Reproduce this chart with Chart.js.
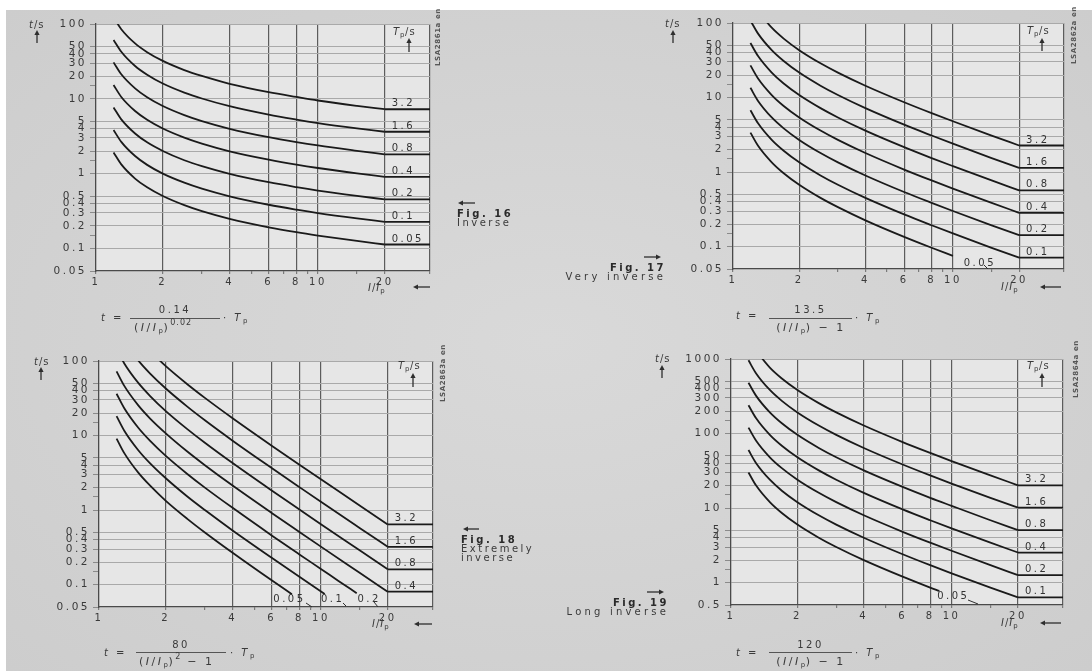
<!DOCTYPE html>
<html><head><meta charset="utf-8">
<script src="https://cdn.jsdelivr.net/npm/chart.js@4.4.1/dist/chart.umd.min.js"></script>
<style>
html,body{margin:0;padding:0;background:#fff;}
#page{position:relative;width:1092px;height:671px;overflow:hidden;background:#fff;font-family:"DejaVu Sans",sans-serif;color:#3a3a3a;}
#paper{position:absolute;left:6px;top:10px;right:0;bottom:0;background:radial-gradient(ellipse at 50% 50%, #d9d9d9 0%, #d2d2d2 60%, #cdcdcd 100%);}
canvas{position:absolute;}
.t{position:absolute;white-space:nowrap;font-size:10px;line-height:12px;letter-spacing:2.5px;z-index:3;}
.u{letter-spacing:1px;}
.b{font-weight:bold;color:#2a2a2a;}
.s{font-size:7px;letter-spacing:0.5px;position:relative;top:2px;}
.id{position:absolute;white-space:nowrap;font-size:7px;line-height:9px;letter-spacing:0.6px;color:#555;transform:rotate(-90deg);transform-origin:left top;z-index:3;font-weight:bold;}
.bar{position:absolute;height:1px;background:#555;z-index:3;}
.c{text-align:center;}
.r{text-align:right;}
.sup{font-size:8px;letter-spacing:1px;position:relative;top:-6px;}
#ov{position:absolute;left:0;top:0;z-index:4;}
</style></head>
<body>
<div id="page">
<div id="paper"></div>
<canvas id="c16" width="546" height="330" style="left:0;top:0;width:546px;height:330px"></canvas>
<canvas id="c17" width="546" height="330" style="left:546px;top:0;width:546px;height:330px"></canvas>
<canvas id="c18" width="546" height="341" style="left:0;top:330px;width:546px;height:341px"></canvas>
<canvas id="c19" width="546" height="341" style="left:546px;top:330px;width:546px;height:341px"></canvas>

<!-- Fig 16 texts -->
<div class="t u" style="left:29px;top:19px"><i>t</i>/s</div>
<div class="t u" style="left:393px;top:26px"><i>T</i><span class="s">p</span>/s</div>
<div class="id" style="left:434px;top:66px">LSA2861a en</div>
<div class="t b" style="left:457px;top:208px">Fig. 16</div>
<div class="t" style="left:457px;top:217px">Inverse</div>
<div class="t u" style="left:368px;top:282px"><i>I</i>/<i>I</i><span class="s">p</span></div>
<div class="t" style="left:101px;top:312px"><i>t</i> =</div>
<div class="t c" style="left:130px;top:304px;width:90px">0.14</div>
<div class="bar" style="left:130px;top:318px;width:90px"></div>
<div class="t" style="left:134px;top:322px;font-size:11px">(<i>I</i>/<i>I</i><span class="s">p</span>)<span class="sup">0.02</span></div>
<div class="t" style="left:223px;top:312px">· <i>T</i><span class="s">p</span></div>

<!-- Fig 17 texts -->
<div class="t u" style="left:665px;top:18px"><i>t</i>/s</div>
<div class="t u" style="left:1027px;top:25px"><i>T</i><span class="s">p</span>/s</div>
<div class="id" style="left:1070px;top:64px">LSA2862a en</div>
<div class="t b r" style="left:530px;top:262px;width:136px">Fig. 17</div>
<div class="t r" style="left:530px;top:271px;width:136px;letter-spacing:3.2px">Very inverse</div>
<div class="t u" style="left:1001px;top:281px"><i>I</i>/<i>I</i><span class="s">p</span></div>
<div class="t" style="left:736px;top:310px"><i>t</i> =</div>
<div class="t c" style="left:769px;top:304px;width:83px">13.5</div>
<div class="bar" style="left:769px;top:318px;width:83px"></div>
<div class="t c" style="left:766px;top:322px;width:90px;font-size:11px">(<i>I</i>/<i>I</i><span class="s">p</span>) − 1</div>
<div class="t" style="left:855px;top:312px">· <i>T</i><span class="s">p</span></div>

<!-- Fig 18 texts -->
<div class="t u" style="left:34px;top:356px"><i>t</i>/s</div>
<div class="t u" style="left:398px;top:360px"><i>T</i><span class="s">p</span>/s</div>
<div class="id" style="left:439px;top:402px">LSA2863a en</div>
<div class="t b" style="left:461px;top:534px">Fig. 18</div>
<div class="t" style="left:461px;top:543px">Extremely</div>
<div class="t" style="left:461px;top:552px">inverse</div>
<div class="t u" style="left:372px;top:618px"><i>I</i>/<i>I</i><span class="s">p</span></div>
<div class="t" style="left:104px;top:647px"><i>t</i> =</div>
<div class="t c" style="left:136px;top:639px;width:90px">80</div>
<div class="bar" style="left:136px;top:652px;width:90px"></div>
<div class="t" style="left:139px;top:656px;font-size:11px">(<i>I</i>/<i>I</i><span class="s">p</span>)<span class="sup">2</span> − 1</div>
<div class="t" style="left:230px;top:647px">· <i>T</i><span class="s">p</span></div>

<!-- Fig 19 texts -->
<div class="t u" style="left:655px;top:353px"><i>t</i>/s</div>
<div class="t u" style="left:1027px;top:360px"><i>T</i><span class="s">p</span>/s</div>
<div class="id" style="left:1072px;top:398px">LSA2864a en</div>
<div class="t b r" style="left:530px;top:597px;width:139px">Fig. 19</div>
<div class="t r" style="left:530px;top:606px;width:139px;letter-spacing:3.2px">Long inverse</div>
<div class="t u" style="left:1001px;top:617px"><i>I</i>/<i>I</i><span class="s">p</span></div>
<div class="t" style="left:736px;top:647px"><i>t</i> =</div>
<div class="t c" style="left:769px;top:639px;width:83px">120</div>
<div class="bar" style="left:769px;top:652px;width:83px"></div>
<div class="t c" style="left:766px;top:656px;width:90px;font-size:11px">(<i>I</i>/<i>I</i><span class="s">p</span>) − 1</div>
<div class="t" style="left:855px;top:647px">· <i>T</i><span class="s">p</span></div>

<svg id="ov" width="1092" height="671"></svg>
</div>

<script>
// ---------- axis ticks ----------
const xTicks = [1, 2, 3, 4, 5, 6, 7, 8, 9, 10, 15, 20, 32];
const xTickLabels = ['1', '2', '4', '6', '8', '10', '20'];
const xMajor = [2, 4, 6, 8, 10, 20, 32];
const yTicksA = [0.05, 0.1, 0.15, 0.2, 0.3, 0.4, 0.5, 1, 1.5, 2, 3, 4, 5, 10, 15, 20, 30, 40, 50, 100];
const yLabelsA = ['0.05', '0.1', '0.2', '0.3', '0.4', '0.5', '1', '2', '3', '4', '5', '10', '20', '30', '40', '50', '100'];
const yTicksB = [0.5, 1, 1.5, 2, 3, 4, 5, 10, 15, 20, 30, 40, 50, 100, 150, 200, 300, 400, 500, 1000];
const yLabelsB = ['0.5', '1', '2', '3', '4', '5', '10', '20', '30', '40', '50', '100', '200', '300', '400', '500', '1000'];
const tpLabels = ['3.2', '1.6', '0.8', '0.4', '0.2', '0.1', '0.05'];

// ---------- Fig. 16 Inverse ----------
const fig16_x = [1.2, 1.3, 1.5, 1.7, 2, 2.5, 3, 4, 6, 8, 10, 15, 20];
const fig16_tp3_2 = [122.7, 85.2, 55.0, 42.0, 32.1, 24.2, 20.2, 15.9, 12.3, 10.6, 9.5, 8.06, 7.26];
const fig16_tp1_6 = [61.3, 42.6, 27.5, 21.0, 16.0, 12.1, 10.1, 7.97, 6.14, 5.28, 4.75, 4.03, 3.63];
const fig16_tp0_8 = [30.7, 21.3, 13.8, 10.5, 8.02, 6.06, 5.04, 3.98, 3.07, 2.64, 2.38, 2.02, 1.81];
const fig16_tp0_4 = [15.3, 10.6, 6.88, 5.25, 4.01, 3.03, 2.52, 1.99, 1.54, 1.32, 1.19, 1.01, 0.907];
const fig16_tp0_2 = [7.67, 5.32, 3.44, 2.62, 2.01, 1.51, 1.26, 0.996, 0.768, 0.660, 0.594, 0.504, 0.453];
const fig16_tp0_1 = [3.83, 2.66, 1.72, 1.31, 1.00, 0.757, 0.630, 0.498, 0.384, 0.330, 0.297, 0.252, 0.227];
const fig16_tp0_05 = [1.92, 1.33, 0.860, 0.656, 0.502, 0.379, 0.315, 0.249, 0.192, 0.165, 0.149, 0.126, 0.113];

// ---------- Fig. 17 Very inverse ----------
const fig17_x = [1.2, 1.3, 1.5, 1.7, 2, 2.5, 3, 4, 6, 8, 10, 15, 20];
const fig17_tp3_2 = [null, 144, 86.4, 61.7, 43.2, 28.8, 21.6, 14.4, 8.64, 6.17, 4.80, 3.09, 2.27];
const fig17_tp1_6 = [108, 72, 43.2, 30.9, 21.6, 14.4, 10.8, 7.2, 4.32, 3.09, 2.40, 1.54, 1.14];
const fig17_tp0_8 = [54, 36, 21.6, 15.4, 10.8, 7.2, 5.4, 3.6, 2.16, 1.54, 1.20, 0.771, 0.568];
const fig17_tp0_4 = [27, 18, 10.8, 7.71, 5.4, 3.6, 2.7, 1.8, 1.08, 0.771, 0.60, 0.386, 0.284];
const fig17_tp0_2 = [13.5, 9, 5.4, 3.86, 2.7, 1.8, 1.35, 0.9, 0.54, 0.386, 0.30, 0.193, 0.142];
const fig17_tp0_1 = [6.75, 4.5, 2.7, 1.93, 1.35, 0.9, 0.675, 0.45, 0.27, 0.193, 0.15, 0.096, 0.071];
const fig17_x005 = [1.2, 1.3, 1.5, 1.7, 2, 2.5, 3, 4, 6, 8, 10];
const fig17_tp0_05 = [3.38, 2.25, 1.35, 0.964, 0.675, 0.45, 0.338, 0.225, 0.135, 0.0964, 0.075];

// ---------- Fig. 18 Extremely inverse ----------
const fig18_x = [1.2, 1.3, 1.5, 1.7, 2, 2.5, 3, 4, 6, 8, 10, 15, 20];
const fig18_tp3_2 = [null, null, null, 135.5, 85.3, 48.8, 32, 17.07, 7.31, 4.06, 2.59, 1.14, 0.642];
const fig18_tp1_6 = [null, 185.4, 102.4, 67.7, 42.7, 24.4, 16, 8.53, 3.66, 2.03, 1.29, 0.571, 0.321];
const fig18_tp0_8 = [145.4, 92.7, 51.2, 33.9, 21.3, 12.2, 8, 4.27, 1.83, 1.016, 0.646, 0.286, 0.160];
const fig18_tp0_4 = [72.7, 46.4, 25.6, 16.9, 10.7, 6.10, 4, 2.13, 0.914, 0.508, 0.323, 0.143, 0.0802];
const fig18_x02 = [1.2, 1.3, 1.5, 1.7, 2, 2.5, 3, 4, 6, 8, 10, 12, 14.5];
const fig18_tp0_2 = [36.4, 23.2, 12.8, 8.47, 5.33, 3.05, 2, 1.07, 0.457, 0.254, 0.162, 0.112, 0.0765];
const fig18_x01 = [1.2, 1.3, 1.5, 1.7, 2, 2.5, 3, 4, 6, 8, 10.4];
const fig18_tp0_1 = [18.2, 11.6, 6.4, 4.23, 2.67, 1.52, 1.0, 0.533, 0.229, 0.127, 0.0746];
const fig18_x005 = [1.2, 1.3, 1.5, 1.7, 2, 2.5, 3, 4, 6, 7.4];
const fig18_tp0_05 = [9.09, 5.80, 3.2, 2.12, 1.33, 0.762, 0.5, 0.267, 0.114, 0.0744];

// ---------- Fig. 19 Long inverse ----------
const fig19_x = [1.2, 1.3, 1.5, 1.7, 2, 2.5, 3, 4, 6, 8, 10, 15, 20];
const fig19_tp3_2 = [null, 1280, 768, 548.6, 384, 256, 192, 128, 76.8, 54.9, 42.7, 27.4, 20.2];
const fig19_tp1_6 = [960, 640, 384, 274.3, 192, 128, 96, 64, 38.4, 27.4, 21.3, 13.7, 10.1];
const fig19_tp0_8 = [480, 320, 192, 137.1, 96, 64, 48, 32, 19.2, 13.7, 10.7, 6.86, 5.05];
const fig19_tp0_4 = [240, 160, 96, 68.6, 48, 32, 24, 16, 9.6, 6.86, 5.33, 3.43, 2.53];
const fig19_tp0_2 = [120, 80, 48, 34.3, 24, 16, 12, 8, 4.8, 3.43, 2.67, 1.71, 1.26];
const fig19_tp0_1 = [60, 40, 24, 17.1, 12, 8, 6, 4, 2.4, 1.71, 1.33, 0.857, 0.632];
const fig19_x005 = [1.2, 1.3, 1.5, 1.7, 2, 2.5, 3, 4, 6, 8, 8.8];
const fig19_tp0_05 = [30, 20, 12, 8.57, 6, 4, 3, 2, 1.2, 0.857, 0.773];

const X_MAX = 32;
const LINE = '#1a1a1a';

const specs = [
  { id: 'c16', yw: 96, padR: 116, padT: 24, xh: 59, yMin: 0.05, yMax: 100, yTicks: yTicksA, yLabels: yLabelsA,
    curves: [
      { x: fig16_x, y: fig16_tp3_2, label: tpLabels[0], tail: true },
      { x: fig16_x, y: fig16_tp1_6, label: tpLabels[1], tail: true },
      { x: fig16_x, y: fig16_tp0_8, label: tpLabels[2], tail: true },
      { x: fig16_x, y: fig16_tp0_4, label: tpLabels[3], tail: true },
      { x: fig16_x, y: fig16_tp0_2, label: tpLabels[4], tail: true },
      { x: fig16_x, y: fig16_tp0_1, label: tpLabels[5], tail: true },
      { x: fig16_x, y: fig16_tp0_05, label: tpLabels[6], tail: true }
    ], free: [] },
  { id: 'c17', yw: 187, padR: 28, padT: 23, xh: 61, yMin: 0.05, yMax: 100, yTicks: yTicksA, yLabels: yLabelsA,
    curves: [
      { x: fig17_x, y: fig17_tp3_2, label: tpLabels[0], tail: true },
      { x: fig17_x, y: fig17_tp1_6, label: tpLabels[1], tail: true },
      { x: fig17_x, y: fig17_tp0_8, label: tpLabels[2], tail: true },
      { x: fig17_x, y: fig17_tp0_4, label: tpLabels[3], tail: true },
      { x: fig17_x, y: fig17_tp0_2, label: tpLabels[4], tail: true },
      { x: fig17_x, y: fig17_tp0_1, label: tpLabels[5], tail: true },
      { x: fig17_x005, y: fig17_tp0_05, label: tpLabels[6], tail: false }
    ], free: [{ text: '0.05', x: 11.2, y: 0.05, dy: -3 }] },
  { id: 'c18', yw: 99, padR: 113, padT: 31, xh: 64, yMin: 0.05, yMax: 100, yTicks: yTicksA, yLabels: yLabelsA,
    curves: [
      { x: fig18_x, y: fig18_tp3_2, label: tpLabels[0], tail: true },
      { x: fig18_x, y: fig18_tp1_6, label: tpLabels[1], tail: true },
      { x: fig18_x, y: fig18_tp0_8, label: tpLabels[2], tail: true },
      { x: fig18_x, y: fig18_tp0_4, label: tpLabels[3], tail: true },
      { x: fig18_x02, y: fig18_tp0_2, label: tpLabels[4], tail: false },
      { x: fig18_x01, y: fig18_tp0_1, label: tpLabels[5], tail: false },
      { x: fig18_x005, y: fig18_tp0_05, label: tpLabels[6], tail: false }
    ], free: [{ text: '0.05', x: 6.1, y: 0.05, dy: -5 }, { text: '0.1', x: 10.0, y: 0.05, dy: -5 }, { text: '0.2', x: 14.6, y: 0.05, dy: -5 }] },
  { id: 'c19', yw: 185, padR: 29, padT: 29, xh: 66, yMin: 0.5, yMax: 1000, yTicks: yTicksB, yLabels: yLabelsB,
    curves: [
      { x: fig19_x, y: fig19_tp3_2, label: tpLabels[0], tail: true },
      { x: fig19_x, y: fig19_tp1_6, label: tpLabels[1], tail: true },
      { x: fig19_x, y: fig19_tp0_8, label: tpLabels[2], tail: true },
      { x: fig19_x, y: fig19_tp0_4, label: tpLabels[3], tail: true },
      { x: fig19_x, y: fig19_tp0_2, label: tpLabels[4], tail: true },
      { x: fig19_x, y: fig19_tp0_1, label: tpLabels[5], tail: true },
      { x: fig19_x005, y: fig19_tp0_05, label: tpLabels[6], tail: false }
    ], free: [{ text: '0.05', x: 8.6, y: 0.5, dy: -6 }] }
];

const FONT = '"DejaVu Sans", sans-serif';

const bgPlugin = {
  id: 'bgarea',
  beforeDraw(chart) {
    const { ctx, chartArea: a } = chart;
    ctx.save();
    ctx.fillStyle = '#e6e6e6';
    ctx.fillRect(a.left, a.top, a.right - a.left, a.bottom - a.top);
    ctx.restore();
    ctx.letterSpacing = '2.5px';
  }
};

const tpPlugin = {
  id: 'tplabels',
  afterDatasetsDraw(chart, args, opts) {
    const { ctx, scales: { x, y } } = chart;
    ctx.save();
    ctx.letterSpacing = '2.5px';
    ctx.font = '10px ' + FONT;
    ctx.fillStyle = '#333';
    ctx.textAlign = 'left';
    ctx.textBaseline = 'alphabetic';
    (opts.items || []).forEach(it => {
      ctx.fillText(it.text, x.getPixelForValue(it.x) + (it.dx || 0), y.getPixelForValue(it.y) + (it.dy || 0));
    });
    ctx.restore();
  }
};

function labelFor(list, v) {
  const f = list.find(l => Math.abs(Number(l) - v) < 1e-9);
  return f === undefined ? '' : f;
}

specs.forEach(sp => {
  const datasets = [];
  const items = [];
  sp.curves.forEach(c => {
    datasets.push({
      data: c.x.map((xv, i) => ({ x: xv, y: c.y[i] })),
      borderColor: LINE, borderWidth: 1.8, pointRadius: 0,
      cubicInterpolationMode: 'monotone', spanGaps: false, fill: false
    });
    const lastX = c.x[c.x.length - 1];
    const lastY = c.y[c.y.length - 1];
    if (c.tail) {
      datasets.push({
        data: [{ x: lastX, y: lastY }, { x: X_MAX, y: lastY }],
        borderColor: LINE, borderWidth: 1.8, pointRadius: 0, tension: 0, fill: false
      });
      items.push({ text: c.label, x: lastX, y: lastY, dx: 7, dy: -3 });
    }
  });
  sp.free.forEach(f => items.push(f));

  new Chart(document.getElementById(sp.id), {
    type: 'line',
    data: { datasets },
    plugins: [bgPlugin, tpPlugin],
    options: {
      responsive: false, animation: false, devicePixelRatio: 1, events: [],
      layout: { padding: { left: 0, right: sp.padR, top: sp.padT, bottom: 0 } },
      plugins: { legend: { display: false }, tooltip: { enabled: false }, tplabels: { items } },
      scales: {
        x: {
          type: 'logarithmic', min: 1, max: X_MAX, position: 'bottom',
          afterBuildTicks: s => { s.ticks = xTicks.map(v => ({ value: v })); },
          afterFit: s => { s.height = sp.xh; },
          ticks: { autoSkip: false, maxRotation: 0, minRotation: 0, padding: 2, color: '#3a3a3a',
                   font: { family: FONT, size: 10 }, callback: v => labelFor(xTickLabels, v) },
          grid: { color: c => (c.tick && xMajor.includes(c.tick.value)) ? '#5c5c5c' : 'rgba(0,0,0,0)',
                  lineWidth: 1.2, tickLength: 3, tickColor: '#7a7a7a', drawTicks: true },
          border: { color: '#4a4a4a', width: 1.3 }
        },
        y: {
          type: 'logarithmic', min: sp.yMin, max: sp.yMax, position: 'left',
          afterBuildTicks: s => { s.ticks = sp.yTicks.map(v => ({ value: v })); },
          afterFit: s => { s.width = sp.yw; },
          ticks: { autoSkip: false, padding: 3, color: '#3a3a3a',
                   font: { family: FONT, size: 10.5 }, callback: v => labelFor(sp.yLabels, v) },
          grid: { color: c => {
                    if (!c.tick) return 'rgba(0,0,0,0)';
                    const v = c.tick.value;
                    if (v === sp.yMin) return 'rgba(0,0,0,0)';
                    return labelFor(sp.yLabels, v) === '' ? 'rgba(0,0,0,0)' : '#a9a9a9';
                  },
                  lineWidth: 1, tickLength: 6, tickColor: '#8a8a8a', drawTicks: true },
          border: { color: '#4a4a4a', width: 1.3 }
        }
      }
    }
  });
});

// ---------- arrows and small leader marks (overlay) ----------
const ov = document.getElementById('ov');
const NS = 'http://www.w3.org/2000/svg';
function line(x1, y1, x2, y2, w) {
  const l = document.createElementNS(NS, 'line');
  l.setAttribute('x1', x1); l.setAttribute('y1', y1); l.setAttribute('x2', x2); l.setAttribute('y2', y2);
  l.setAttribute('stroke', '#2e2e2e'); l.setAttribute('stroke-width', w || 1.2);
  ov.appendChild(l);
}
function arrow(x1, y1, x2, y2) {
  const dx = x2 - x1, dy = y2 - y1, L = Math.hypot(dx, dy), ux = dx / L, uy = dy / L;
  const hl = 5, hw = 2.6;
  const bx = x2 - ux * hl, by = y2 - uy * hl;
  line(x1, y1, bx, by, 1.3);
  const p = document.createElementNS(NS, 'polygon');
  p.setAttribute('points', `${x2},${y2} ${bx - uy * hw},${by + ux * hw} ${bx + uy * hw},${by - ux * hw}`);
  p.setAttribute('fill', '#2e2e2e');
  ov.appendChild(p);
}
// Fig 16
arrow(37, 43, 37, 30); arrow(409, 52, 409, 38); arrow(475, 203, 458, 203); arrow(430, 287, 413, 287);
// Fig 17
arrow(673, 43, 673, 30); arrow(1042, 51, 1042, 38); arrow(644, 257, 661, 257); arrow(1061, 287, 1040, 287);
// Fig 18
arrow(41, 380, 41, 367); arrow(413, 387, 413, 373); arrow(479, 529, 463, 529); arrow(432, 624, 414, 624);
// Fig 19
arrow(662, 378, 662, 365); arrow(1042, 387, 1042, 373); arrow(647, 592, 664, 592); arrow(1061, 623, 1040, 623);
// leader marks
line(984, 265, 988, 269, 1); line(306, 603, 312, 607, 1); line(343, 603, 346, 606, 1); line(374, 602, 378, 607, 1); line(968, 600, 978, 604, 1);
</script>
</body></html>
